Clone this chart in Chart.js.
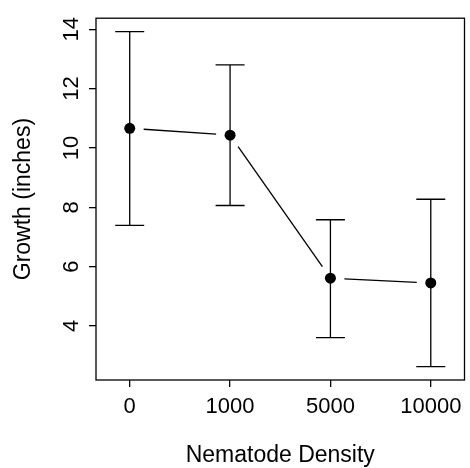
<!DOCTYPE html>
<html>
<head>
<meta charset="utf-8">
<script src="https://cdn.jsdelivr.net/npm/chart.js@4"></script>
<style>
  html, body { margin: 0; padding: 0; background: #fff; }
</style>
</head>
<body>
<canvas id="growthChart" width="470" height="468"></canvas>
<script>
// nematode density groups
const categories = ["0", "1000", "5000", "10000"];
// mean growth and error bar ends (inches)
const growthMean = [10.66, 10.43, 5.61, 5.45];
const growthUpper = [13.92, 12.8, 7.58, 8.27];
const growthLower = [7.39, 8.06, 3.61, 2.63];
// y axis ticks
const yTicks = [4, 6, 8, 10, 12, 14];

const FONT = "'Liberation Sans', Arial, sans-serif";

// box, error bars and the "type b" lines with gaps round the points
const rPlotPlugin = {
  id: "rPlot",
  beforeDatasetsDraw(chart) {
    const ctx = chart.ctx;
    const xs = chart.scales.x;
    const ys = chart.scales.y;
    const gap = 14;
    const cap = 14.5;
    ctx.save();
    ctx.strokeStyle = "#000";
    ctx.lineWidth = 1.3;

    // error bars
    for (let i = 0; i < categories.length; i++) {
      const px = xs.getPixelForValue(i);
      const top = ys.getPixelForValue(growthUpper[i]);
      const bot = ys.getPixelForValue(growthLower[i]);
      ctx.beginPath();
      ctx.moveTo(px, top);
      ctx.lineTo(px, bot);
      ctx.moveTo(px - cap, top);
      ctx.lineTo(px + cap, top);
      ctx.moveTo(px - cap, bot);
      ctx.lineTo(px + cap, bot);
      ctx.stroke();
    }

    // connecting segments
    for (let i = 0; i < categories.length - 1; i++) {
      const x1 = xs.getPixelForValue(i);
      const y1 = ys.getPixelForValue(growthMean[i]);
      const x2 = xs.getPixelForValue(i + 1);
      const y2 = ys.getPixelForValue(growthMean[i + 1]);
      const len = Math.hypot(x2 - x1, y2 - y1);
      const ux = (x2 - x1) / len;
      const uy = (y2 - y1) / len;
      ctx.beginPath();
      ctx.moveTo(x1 + ux * gap, y1 + uy * gap);
      ctx.lineTo(x2 - ux * gap, y2 - uy * gap);
      ctx.stroke();
    }
    ctx.restore();
  },
  afterDraw(chart) {
    const a = chart.chartArea;
    const ctx = chart.ctx;
    ctx.save();
    ctx.strokeStyle = "#000";
    ctx.lineWidth = 1.3;
    ctx.strokeRect(a.left, a.top, a.right - a.left, a.bottom - a.top);
    ctx.restore();
  },
};

new Chart(document.getElementById("growthChart"), {
  type: "scatter",
  data: {
    datasets: [
      {
        data: categories.map((c, i) => ({ x: i, y: growthMean[i] })),
        backgroundColor: "#000",
        borderWidth: 0,
        pointRadius: 5.5,
        showLine: false,
      },
    ],
  },
  options: {
    responsive: false,
    animation: false,
    layout: { padding: { top: 9, right: 3, left: 0, bottom: 0 } },
    plugins: {
      legend: { display: false },
      tooltip: { enabled: false },
    },
    scales: {
      x: {
        type: "linear",
        min: -0.336,
        max: 3.336,
        afterBuildTicks: (scale) => {
          scale.ticks = categories.map((c, i) => ({ value: i }));
        },
        afterFit: (scale) => {
          scale.height = 88;
        },
        border: { display: false },
        grid: {
          drawOnChartArea: false,
          drawTicks: true,
          tickLength: 7,
          color: "#000",
          lineWidth: 1.3,
        },
        ticks: {
          color: "#000",
          padding: 7,
          maxRotation: 0,
          autoSkip: false,
          font: { family: FONT, size: 22 },
          callback: (v) => categories[v],
        },
        title: {
          display: true,
          text: "Nematode Density",
          color: "#000",
          padding: { top: 0, bottom: 1.2 },
          font: { family: FONT, size: 23, lineHeight: 1 },
        },
      },
      y: {
        min: 2.18,
        max: 14.37,
        afterBuildTicks: (scale) => {
          scale.ticks = yTicks.map((v) => ({ value: v }));
        },
        afterFit: (scale) => {
          scale.width = 96;
        },
        border: { display: false },
        grid: {
          drawOnChartArea: false,
          drawTicks: true,
          tickLength: 7,
          color: "#000",
          lineWidth: 1.3,
        },
        ticks: {
          color: "#000",
          padding: 5,
          minRotation: 90,
          maxRotation: 90,
          crossAlign: "center",
          font: { family: FONT, size: 22 },
        },
        title: {
          display: true,
          text: "Growth (inches)",
          color: "#000",
          padding: { top: 12.5, bottom: 0 },
          font: { family: FONT, size: 23, lineHeight: 1 },
        },
      },
    },
  },
  plugins: [rPlotPlugin],
});
</script>
</body>
</html>
